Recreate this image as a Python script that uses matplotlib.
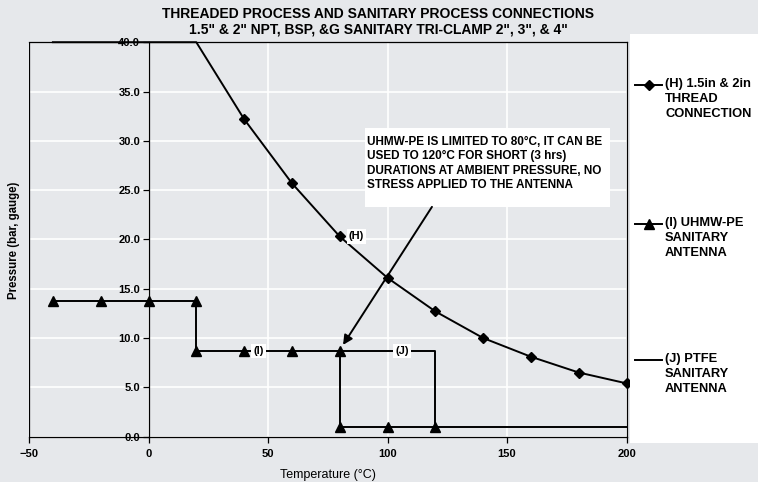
import matplotlib
matplotlib.use("Agg")
import matplotlib.pyplot as plt
from matplotlib.patches import Rectangle
from matplotlib.lines import Line2D

plt.rcParams['font.family'] = ['Liberation Sans', 'DejaVu Sans']
plt.rcParams['font.weight'] = 'bold'

# data
temp_h = [-40, -20, 0, 20, 40, 60, 80, 100, 120, 140, 160, 180, 200]
press_h = [40, 40, 40, 40, 32.2, 25.7, 20.3, 16.1, 12.7, 10.0, 8.1, 6.5, 5.4]

temp_i = [-40, -20, 0, 20, 20, 40, 60, 80, 80, 100, 120]
press_i = [13.8, 13.8, 13.8, 13.8, 8.7, 8.7, 8.7, 8.7, 1.0, 1.0, 1.0]

temp_j = [80, 120, 120, 200]
press_j = [8.7, 8.7, 1.0, 1.0]

label_h = "(H) 1.5in & 2in\nTHREAD\nCONNECTION"
label_i = "(I) UHMW-PE\nSANITARY\nANTENNA"
label_j = "(J) PTFE\nSANITARY\nANTENNA"

note = ("UHMW-PE IS LIMITED TO 80\u00b0C, IT CAN BE\n"
        "USED TO 120\u00b0C FOR SHORT (3 hrs)\n"
        "DURATIONS AT AMBIENT PRESSURE, NO\n"
        "STRESS APPLIED TO THE ANTENNA")

bg = '#e6e8eb'
W, H = 758, 482
fig = plt.figure(figsize=(7.58, 4.82), dpi=100, facecolor=bg)
ax = fig.add_axes([29 / W, 1 - 436.6 / H, 597.5 / W, 394.4 / H])
ax.set_facecolor(bg)

ax.set_xlim(-50, 200)
ax.set_ylim(0, 40)
ax.set_xticks(range(-50, 201, 50))
ax.set_yticks(range(0, 41, 5))
ax.set_yticklabels(["%.1f" % v for v in range(0, 41, 5)])
ax.grid(color='white', lw=1.2, zorder=0)
ax.set_axisbelow(True)

ax.spines['left'].set_position(('data', 0))
for s in ['left', 'right', 'top', 'bottom']:
    ax.spines[s].set_color('black')
    ax.spines[s].set_linewidth(0.9)
ax.axvline(-50, color='black', lw=0.9)
ax.tick_params(axis='both', direction='out', length=4, width=0.9, labelsize=8, pad=2)
ax.tick_params(axis='x', pad=5)

lh, = ax.plot(temp_h, press_h, color='black', lw=1.4, marker='D', markersize=5,
              markevery=list(range(4, len(temp_h))), clip_on=False, zorder=3)
li, = ax.plot(temp_i, press_i, color='black', lw=1.4, marker='^', markersize=7,
              clip_on=False, zorder=3)
lj, = ax.plot(temp_j, press_j, color='black', lw=1.4, zorder=2)

box = dict(facecolor='white', edgecolor='none', pad=1.5)
ax.text(87, 20.3, "(H)", fontsize=8, ha='center', va='center', bbox=box, zorder=4)
ax.text(46, 8.7, "(I)", fontsize=8, ha='center', va='center', bbox=box, zorder=4)
ax.text(106, 8.7, "(J)", fontsize=8, ha='center', va='center', bbox=box, zorder=4)

# white note box
ax.add_patch(Rectangle((90.6, 23.3), 102.4, 8.0, facecolor='white', edgecolor='none',
                       zorder=4))
ax.text(91.3, 27.7, note, fontsize=8.5, ha='left', va='center', linespacing=1.25,
        zorder=5)
ax.annotate("", xy=(81.4, 9.3), xytext=(118.6, 23.3),
            arrowprops=dict(arrowstyle='-|>', color='black', lw=1.4, mutation_scale=14,
                            shrinkA=0, shrinkB=0),
            zorder=5)

ax.set_xlabel("Temperature (\u00b0C)", fontsize=9, labelpad=7)
fig.text(14 / W, 1 - 240 / H, "Pressure (bar, gauge)", fontsize=8.3, rotation=90,
         ha='center', va='center')

fig.text(378 / W, 1 - 14 / H, "THREADED PROCESS AND SANITARY PROCESS CONNECTIONS",
         fontsize=10, ha='center', va='center')
fig.text(378 / W, 1 - 30 / H, "1.5\" & 2\" NPT, BSP, &G SANITARY TRI-CLAMP 2\", 3\", & 4\"",
         fontsize=10, ha='center', va='center')

# legend panel on the right
fig.patches.append(Rectangle((630 / W, 1 - 443 / H), 128 / W, 409 / H,
                             transform=fig.transFigure, facecolor='white',
                             edgecolor='none', zorder=0))
for line, lab, ypix in [(lh, label_h, 85), (li, label_i, 224), (lj, label_j, 360)]:
    y = 1 - ypix / H
    mk = line.get_marker() if line is not lj else 'None'
    fig.add_artist(Line2D([635 / W, 662 / W], [y, y], transform=fig.transFigure,
                          color='black', lw=1.4))
    if mk != 'None':
        fig.add_artist(Line2D([648.5 / W], [y], transform=fig.transFigure,
                              color='black', marker=mk, markersize=line.get_markersize()))
    fig.text(665 / W, y + 7 / H, lab, fontsize=9.3, ha='left', va='top', linespacing=1.32)

fig.savefig("out.png", dpi=100, facecolor=bg)
